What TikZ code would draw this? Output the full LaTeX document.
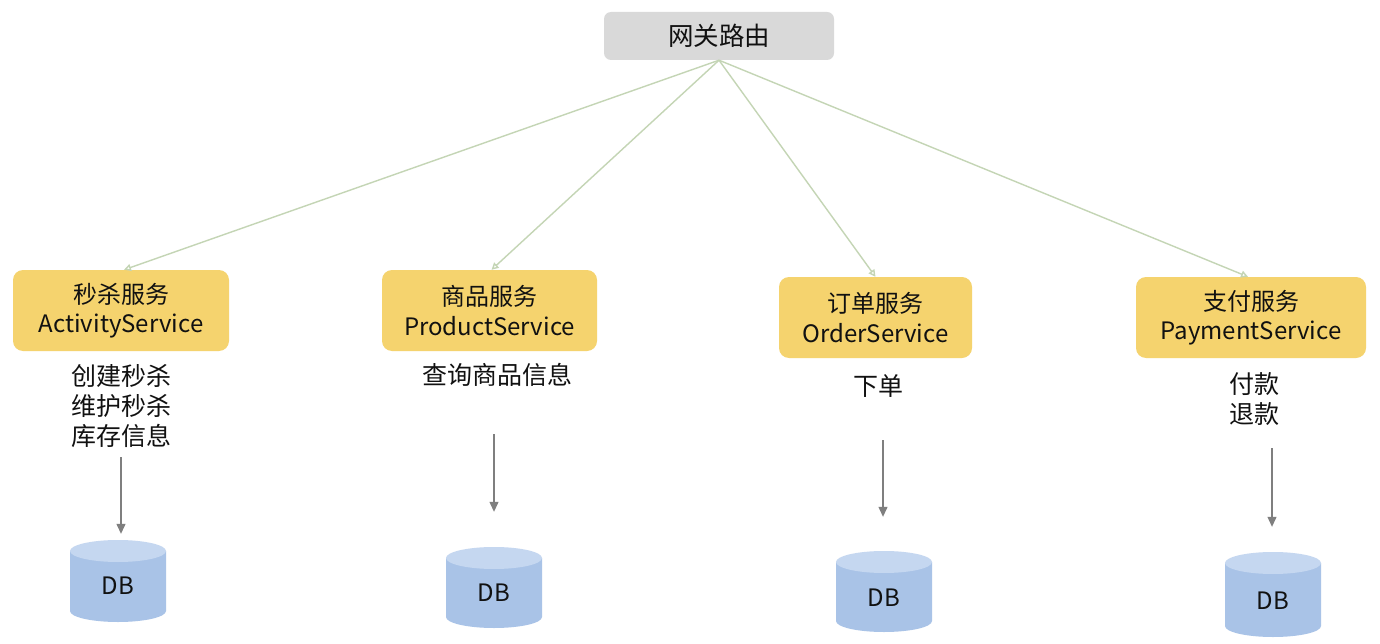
\documentclass[tikz,border=0pt]{standalone}
\usepackage{fontspec}
\setmainfont{Noto Sans CJK SC}
\usetikzlibrary{arrows.meta}
\definecolor{gwfill}{HTML}{D9D9D9}
\definecolor{svfill}{HTML}{F5D36E}
\definecolor{dbbody}{HTML}{A9C3E7}
\definecolor{dbtop}{HTML}{C5D7F0}
\definecolor{gwline}{HTML}{C4D5B5}
\definecolor{vline}{HTML}{7F7F7F}
\definecolor{txt}{HTML}{111111}
\tikzset{
  basefont/.style={font=\fontsize{24}{29.5}\selectfont, text=txt},
  gwbox/.style={font=\fontsize{25.5}{30}\selectfont, text=txt, draw=none, fill=gwfill, rounded corners=7pt, minimum width=230pt, minimum height=48pt, inner sep=0pt},
  svbox/.style={basefont, draw=none, fill=svfill, rounded corners=10pt, minimum height=81pt, inner sep=0pt, align=center},
  lbl/.style={text=txt, align=center, inner sep=0pt, font=\fontsize{25}{30}\selectfont},
  dbnode/.style={minimum width=96pt, inner sep=0pt, draw=none},
  gwarrow/.style={draw=gwline, line width=1.4pt, -{Triangle[open, width=7pt, length=7pt, fill=white]}},
  varrow/.style={draw=vline, line width=1.2pt, -{Triangle[width=9pt, length=10pt]}},
  dbtext/.style={basefont}
}
\begin{document}
\begin{tikzpicture}[x=1pt, y=-1pt]
\useasboundingbox (0,0) rectangle (1380,644);
\fill[white] (0,0) rectangle (1380,644);

% gateway
\node[gwbox] (gw) at (719,36) {网关路由};

% services
\node[svbox, minimum width=216pt] (s1) at (121,310.5) {秒杀服务\\ActivityService};
\node[svbox, minimum width=215pt] (s2) at (489.5,310.5) {商品服务\\ProductService};
\node[svbox, minimum width=193pt] (s3) at (875.5,317.5) {订单服务\\OrderService};
\node[svbox, minimum width=230pt] (s4) at (1251,317.5) {支付服务\\PaymentService};

% labels
\node[lbl] (l1) at (121,406) {创建秒杀\\维护秒杀\\库存信息};
\node[lbl] (l2) at (497,375) {查询商品信息};
\node[lbl] (l3) at (878,386) {下单};
\node[lbl] (l4) at (1254,399) {付款\\退款};

% cylinders
\foreach \cx/\ya/\yb in {118/540/622, 494/547/628, 884/551/632, 1273/552/637}{
  \fill[dbbody] (\cx-48,\ya+11) -- (\cx-48,\yb-11) arc (180:0:48 and 11) -- (\cx+48,\ya+11) -- cycle;
  \fill[dbtop] (\cx,\ya+11) ellipse (48 and 11);
}
\node[dbnode, minimum height=82pt] (db1) at (118,581) {};
\node[dbnode, minimum height=81pt] (db2) at (494,587.5) {};
\node[dbnode, minimum height=81pt] (db3) at (884,591.5) {};
\node[dbnode, minimum height=85pt] (db4) at (1273,594.5) {};
\node[dbtext] (t1) at (118,586) {DB};
\node[dbtext] (t2) at (494,593) {DB};
\node[dbtext] (t3) at (884,598) {DB};
\node[dbtext] (t4) at (1273,601) {DB};

% gateway arrows
\draw[gwarrow] (gw.south) -- ([xshift=3pt]s1.north);
\draw[gwarrow] (gw.south) -- ([xshift=2pt]s2.north);
\draw[gwarrow] (gw.south) -- (s3.north);
\draw[gwarrow] (gw.south) -- ([xshift=-3pt]s4.north);

% vertical arrows
\coordinate (v1) at (121,457);
\coordinate (v2) at (494,434);
\coordinate (v3) at (883,440);
\coordinate (v4) at (1272,448);
\draw[varrow, shorten >=6pt] (v1) -- (db1.north -| v1);
\draw[varrow, shorten >=35pt] (v2) -- (db2.north -| v2);
\draw[varrow, shorten >=34pt] (v3) -- (db3.north -| v3);
\draw[varrow, shorten >=25pt] (v4) -- (db4.north -| v4);
\end{tikzpicture}
\end{document}
